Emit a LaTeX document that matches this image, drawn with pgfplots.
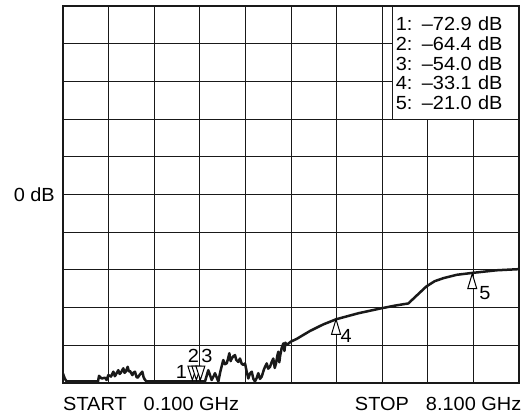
\documentclass[border=0pt]{standalone}
\usepackage{pgfplots}
\pgfplotsset{compat=1.18}
\usepackage{pgfplotstable}
\usepackage{fontspec}
\setmainfont{Liberation Sans}[FakeStretch=1.05]

\pgfplotstableread{
x y
0.100 -47.5
0.130 -48.8
0.165 -49.6
0.714 -49.6
0.732 -48.1
0.779 -48.8
0.837 -48.6
0.866 -49.2
0.895 -47.9
0.942 -48.3
0.983 -47.0
1.010 -48.2
1.030 -47.7
1.070 -46.6
1.095 -47.6
1.118 -47.2
1.158 -46.1
1.180 -47.3
1.200 -47.0
1.235 -45.7
1.255 -46.9
1.275 -46.8
1.316 -47.9
1.340 -47.2
1.363 -47.0
1.390 -48.4
1.411 -48.6
1.451 -47.7
1.491 -47.0
1.515 -48.5
1.539 -49.2
1.568 -49.6
2.591 -49.6
2.649 -46.6
2.709 -49.2
2.767 -47.4
2.825 -49.6
2.860 -47.0
2.912 -43.9
2.940 -45.0
2.972 -44.8
2.995 -43.6
3.018 -42.1
3.040 -44.2
3.060 -43.5
3.090 -42.9
3.118 -42.6
3.140 -43.9
3.176 -44.4
3.205 -43.5
3.235 -44.9
3.263 -45.2
3.293 -44.8
3.320 -46.8
3.351 -48.8
3.380 -47.5
3.411 -47.0
3.440 -48.9
3.468 -49.6
3.500 -48.6
3.526 -47.4
3.556 -48.9
3.586 -48.3
3.630 -46.2
3.674 -44.8
3.700 -46.2
3.732 -45.7
3.760 -44.5
3.789 -43.5
3.815 -46.0
3.837 -44.8
3.860 -42.8
3.877 -41.7
3.895 -44.5
3.907 -43.0
3.935 -40.8
3.965 -39.5
3.985 -41.5
4.000 -39.3
4.025 -39.9
4.100 -39.0
4.200 -38.3
4.433 -36.2
4.660 -34.5
4.890 -33.1
5.281 -31.5
5.679 -30.2
5.950 -29.4
6.158 -28.9
6.305 -26.8
6.474 -24.4
6.620 -23.0
6.772 -22.2
7.007 -21.3
7.280 -20.8
7.709 -20.1
8.100 -19.8
}\tracedata

\pgfdeclareplotmark{utri}{%
  \pgfpathmoveto{\pgfpoint{0bp}{0bp}}%
  \pgfpathlineto{\pgfpoint{-4.5bp}{-15bp}}%
  \pgfpathlineto{\pgfpoint{4.5bp}{-15bp}}%
  \pgfpathclose
  \pgfusepathqfillstroke}
\pgfdeclareplotmark{dtri}{%
  \pgfpathmoveto{\pgfpoint{0bp}{3bp}}%
  \pgfpathlineto{\pgfpoint{-4.5bp}{17bp}}%
  \pgfpathlineto{\pgfpoint{4.5bp}{17bp}}%
  \pgfpathclose
  \pgfusepathqfillstroke}

\begin{document}
\begin{tikzpicture}
\begin{axis}[
  width=456bp, height=377bp, scale only axis,
  xmin=0.1, xmax=8.1, ymin=-50, ymax=50,
  xtick={0.1,0.9,1.7,2.5,3.3,4.1,4.9,5.7,6.5,7.3,8.1},
  ytick={-50,-40,-30,-20,-10,0,10,20,30,40,50},
  xticklabels={}, yticklabels={},
  major tick length=0pt,
  grid=major,
  grid style={black!90, line width=1bp},
  axis line style={line width=2.8bp, black!90},
  clip=true,
  every node near coord/.append style={font=\fontsize{19bp}{20bp}\selectfont, inner sep=0pt, black},
]
\addplot[black!90, line width=2.5bp, line join=round, mark=none] table[x=x,y=y] {\tracedata};

% markers 1-3 (below the screen: shown at the bottom edge)
\addplot[only marks, mark=dtri, mark options={fill=white, draw=black, line width=1bp},
  y filter/.expression={max(y,-50)},
  nodes near coords={1},
  every node near coord/.append style={anchor=base east, xshift=-5bp, yshift=5bp}]
  coordinates {(2.37,-72.9)};
\addplot[only marks, mark=dtri, mark options={fill=white, draw=black, line width=1bp},
  y filter/.expression={max(y,-50)},
  nodes near coords={2},
  every node near coord/.append style={anchor=base, xshift=-3bp, yshift=21bp}]
  coordinates {(2.44,-64.4)};
\addplot[only marks, mark=dtri, mark options={fill=white, draw=black, line width=1bp},
  y filter/.expression={max(y,-50)},
  nodes near coords={3},
  every node near coord/.append style={anchor=base, xshift=6.5bp, yshift=21bp}]
  coordinates {(2.51,-54.0)};
% markers 4, 5
\addplot[only marks, mark=utri, mark options={fill=white, draw=black, line width=1bp},
  nodes near coords={4},
  every node near coord/.append style={anchor=base west, xshift=4bp, yshift=-23bp}]
  coordinates {(4.89,-33.1)};
\addplot[only marks, mark=utri, mark options={fill=white, draw=black, line width=1bp},
  nodes near coords={5},
  every node near coord/.append style={anchor=base west, xshift=6.5bp, yshift=-26bp}]
  coordinates {(7.28,-21.0)};

\node[draw=black!90, line width=1.5bp, fill=white, anchor=north east,
  minimum height=113bp, text width=119bp, inner xsep=3.5bp, inner ysep=0pt,
  align=left, font=\fontsize{19bp}{19.8bp}\selectfont]
  at (rel axis cs:1,1) {1: –72.9 dB\\2: –64.4 dB\\3: –54.0 dB\\4: –33.1 dB\\5: –21.0 dB};

\coordinate (LM) at (rel axis cs:0,0.5);
\coordinate (SW) at (rel axis cs:0,0);
\coordinate (SE) at (rel axis cs:1,0);
\coordinate (NE) at (rel axis cs:1,1);
\end{axis}

\node[anchor=base east, inner sep=0pt, xshift=-8bp, yshift=-7bp,
  font=\fontsize{19bp}{20bp}\selectfont] at (LM) {0 dB};
\node[anchor=base west, inner sep=0pt, yshift=-27bp,
  font=\fontsize{19bp}{20bp}\selectfont] at (SW) {START\hspace{17bp}0.100 GHz};
\node[anchor=base east, inner sep=0pt, xshift=2.5bp, yshift=-27bp,
  font=\fontsize{19bp}{20bp}\selectfont] at (SE) {STOP\hspace{17bp}8.100 GHz};

\useasboundingbox (SW) ++(-63bp,-32bp) rectangle ([xshift=13bp,yshift=6bp]NE);
\end{tikzpicture}
\end{document}
